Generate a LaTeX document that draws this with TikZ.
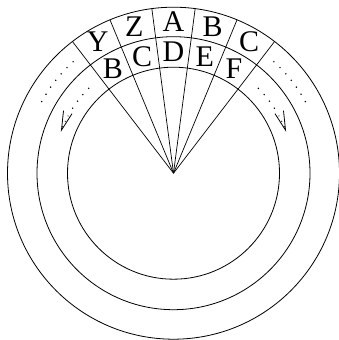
\documentclass[tikz,border=0pt]{standalone}
\usepackage{fontspec}
\setmainfont{Liberation Serif}
\usetikzlibrary{calc,arrows.meta}
\tikzset{
  ring/.style={line width=0.8pt},
  spoke/.style={line width=0.7pt},
  lab/.style={font=\fontsize{30}{30}\selectfont, inner sep=0pt},
  dotarc/.style={line width=1.6pt, line cap=round, dash pattern=on 0pt off 8.5pt},
  tip/.style={-{Straight Barb[length=19pt,width=9pt,line width=0.8pt]}}
}
\begin{document}
\begin{tikzpicture}[x=1pt,y=1pt]
\useasboundingbox (0,0) rectangle (339,340);
\coordinate (O) at (173.5,166.8);
\draw[ring] (O) circle[radius=106];
\draw[ring] (O) circle[radius=136.5];
\draw[ring] (O) circle[radius=166];
\foreach \a in {52.5,67.5,82.5,97.5,112.5,127.5}
  \draw[spoke] (O) -- ++(\a:166);
% outer ring labels
\node[lab] (y1) at ($(O)+(120:151.5)$) {Y};
\node[lab] (z1) at ($(O)+(105:151.5)$) {Z};
\node[lab] (a1) at ($(O)+(90:151.5)$) {A};
\node[lab] (b1) at ($(O)+(75:151.5)$) {B};
\node[lab] (c1) at ($(O)+(60:151.5)$) {C};
% inner ring labels
\node[lab] (b2) at ($(O)+(120:121)$) {B};
\node[lab] (c2) at ($(O)+(105:121)$) {C};
\node[lab] (d2) at ($(O)+(90:121)$) {D};
\node[lab] (e2) at ($(O)+(75:121)$) {E};
\node[lab] (f2) at ($(O)+(60:121)$) {F};
% dotted arcs
\draw[dotarc] ($(O)+(132:150)$) arc[start angle=132,end angle=152,radius=150];
\draw[dotarc] ($(O)+(48:150)$) arc[start angle=48,end angle=28,radius=150];
\draw[dotarc] ($(O)+(135:120)$) arc[start angle=135,end angle=149,radius=120];
\draw[dotarc] ($(O)+(45:120)$) arc[start angle=45,end angle=31,radius=120];
\coordinate (lt) at ($(O)+(159.8:120)$);
\coordinate (ls) at ($(O)+(151.5:120)$);
\coordinate (rt) at ($(O)+(20.2:120)$);
\coordinate (rs) at ($(O)+(28.5:120)$);
\draw[tip, line width=1.2pt, dash pattern=on 0pt off 6pt, line cap=round] (ls) to[bend right=5] (lt);
\draw[tip, line width=1.2pt, dash pattern=on 0pt off 6pt, line cap=round] (rs) to[bend left=5] (rt);
\end{tikzpicture}
\end{document}
